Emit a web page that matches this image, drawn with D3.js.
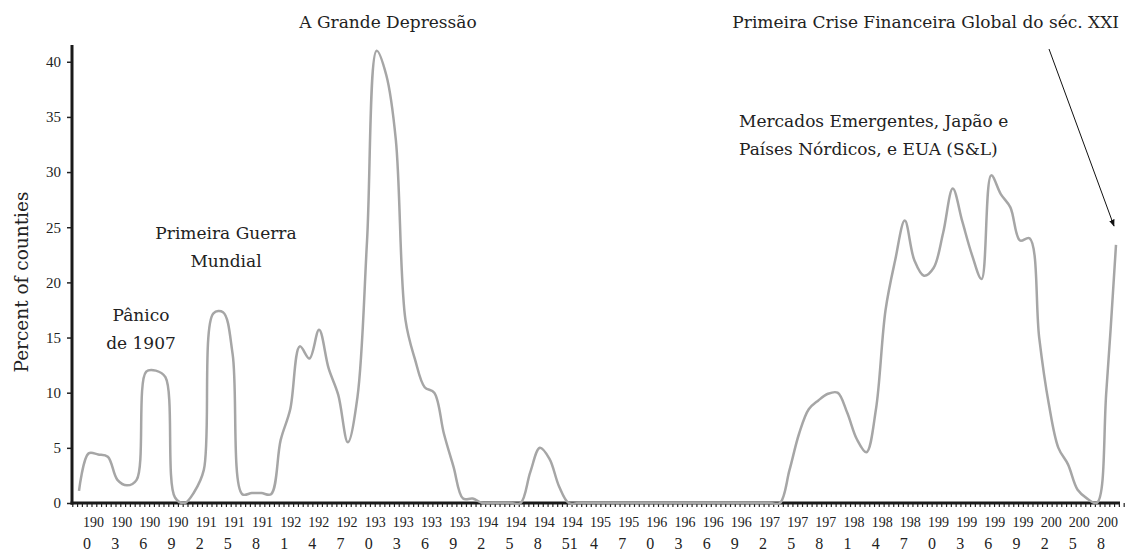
<!DOCTYPE html>
<html>
<head>
<meta charset="utf-8">
<script src="https://cdn.jsdelivr.net/npm/d3@7"></script>
<style>
  body { margin: 0; background: #fff; }
  svg text { font-family: "DejaVu Serif", "Liberation Serif", serif; fill: #222; }
</style>
</head>
<body>
<svg id="chart"></svg>
<script>
let width = 1129;
let height = 554;

// share of countries in banking crisis, one value per year 1900..2008
let years = d3.range(1900, 2009);
let crisisPct = [
  1.1, 4.5, 4.4, 4.2, 2.1, 1.6, 2.1, 11.9, 12.0, 11.4,   // 1900-1909
  0.5, 0.0, 1.0, 3.0, 17.2, 17.3, 13.5, 0.8, 0.9, 0.9,   // 1910-1919
  0.8, 5.7, 8.5, 14.2, 13.1, 15.7, 12.2, 9.8, 5.5, 9.6,  // 1920-1929
  23.8, 41.0, 38.8, 32.9, 16.6, 13.0, 10.5, 10.0, 6.3, 3.3, // 1930-1939
  0.4, 0.4, 0, 0, 0, 0, 0, 2.8, 5.0, 4.0,                // 1940-1949
  1.5, 0, 0, 0, 0, 0, 0, 0, 0, 0,                        // 1950-1959
  0, 0, 0, 0, 0, 0, 0, 0, 0, 0,                          // 1960-1969
  0, 0, 0, 0, 3.0, 6.3, 8.5, 9.3, 9.9, 10.0,             // 1970-1979
  8.2, 5.8, 4.6, 8.5, 17.5, 22.0, 25.6, 22.0, 20.6, 21.3, // 1980-1989
  24.5, 28.5, 25.5, 22.5, 20.3, 29.7, 28.0, 26.8, 23.8, 24.0, // 1990-1999
  15.0, 9.0, 5.0, 3.5, 1.2, 0.4, 0, 10.2, 23.4           // 2000-2008
];

// axis labels, every third year (the 1951 label reads "19451" in the source)
let xTickLabels = ["1900","1903","1906","1909","1912","1915","1918","1921","1924","1927",
  "1930","1933","1936","1939","1942","1945","1948","19451","1954","1957",
  "1960","1963","1966","1969","1972","1975","1978","1981","1984","1987",
  "1990","1993","1996","1999","2002","2005","2008"];
let yTicks = [0, 5, 10, 15, 20, 25, 30, 35, 40];

let svg = d3.select("#chart")
  .attr("width", width)
  .attr("height", height);

let xScale = d3.scaleLinear().domain([1900, 2008]).range([79, 1116]);
let xLabel = d3.scaleLinear().domain([0, xTickLabels.length - 1]).range([83, 1097]);
let yScale = d3.scaleLinear().domain([0, 41.52]).range([503, 45]);

// minor ticks on the x axis
let xAxis = d3.axisBottom(xScale)
  .tickValues(d3.range(1899.3, 2008.9, 0.5))
  .tickSize(4)
  .tickFormat("");
svg.append("g")
  .attr("transform", "translate(0," + 503 + ")")
  .call(xAxis)
  .call(g => g.select(".domain").remove())
  .call(g => g.selectAll("line").attr("stroke", "#222").attr("stroke-width", 1.2));

let yAxis = d3.axisLeft(yScale)
  .tickValues(yTicks)
  .tickSize(5)
  .tickPadding(6);
svg.append("g")
  .attr("transform", "translate(72,0)")
  .call(yAxis)
  .call(g => g.select(".domain").remove())
  .call(g => g.selectAll("line").attr("stroke", "#222").attr("stroke-width", 1.5))
  .call(g => g.selectAll("text")
    .style("font-size", "15px")
    .style("font-family", "'Liberation Serif', serif")
    .attr("fill", "#222"));

// axis lines
svg.append("line")
  .attr("x1", 72).attr("x2", 72)
  .attr("y1", yScale.range()[1]).attr("y2", 504.5)
  .attr("stroke", "#1a1a1a").attr("stroke-width", 3);
svg.append("line")
  .attr("x1", 70.5).attr("x2", 1120)
  .attr("y1", 503).attr("y2", 503)
  .attr("stroke", "#1a1a1a").attr("stroke-width", 3);

// x labels, wrapped after the third character
let lab = svg.append("g").selectAll("text")
  .data(xTickLabels)
  .enter()
  .append("text")
  .attr("x", (d, i) => xLabel(i))
  .attr("y", 527)
  .style("font-family", "'Liberation Serif', serif")
  .style("font-size", "14px");
lab.append("tspan")
  .attr("x", (d, i) => xLabel(i))
  .text(d => d.slice(0, 3));
lab.append("tspan")
  .attr("x", (d, i) => xLabel(i))
  .attr("dy", 22)
  .style("font-size", "16px")
  .text(d => d.slice(3));

// y axis title
svg.append("text")
  .attr("transform", "translate(28,282) rotate(-90)")
  .attr("text-anchor", "middle")
  .style("font-size", "18.5px")
  .text("Percent of counties");

// the series
let line = d3.line()
  .x((d, i) => xScale(years[i]))
  .y(d => yScale(d))
  .curve(d3.curveCatmullRom.alpha(0.5));

svg.append("path")
  .datum(crisisPct)
  .attr("d", line)
  .attr("fill", "none")
  .attr("stroke", "#a6a6a6")
  .attr("stroke-width", 2.5);

// annotations
let notes = [
  { lines: ["A Grande Depressão"], x: 388, y: 28, anchor: "middle" },
  { lines: ["Primeira Crise Financeira Global do séc. XXI"], x: 1119, y: 28, anchor: "end" },
  { lines: ["Mercados Emergentes, Japão e", "Países Nórdicos, e EUA (S&L)"], x: 739, y: 127, anchor: "start" },
  { lines: ["Primeira Guerra", "Mundial"], x: 226, y: 239, anchor: "middle" },
  { lines: ["Pânico", "de 1907"], x: 141, y: 321, anchor: "middle" }
];
notes.forEach(n => {
  let t = svg.append("text")
    .attr("text-anchor", n.anchor)
    .style("font-size", "17px");
  n.lines.forEach((s, i) => {
    t.append("tspan")
      .attr("x", n.x)
      .attr("y", n.y + i * 27.5)
      .text(s);
  });
});

// arrow to the 2008 point
svg.append("defs").append("marker")
  .attr("id", "arrow")
  .attr("viewBox", "0 0 10 10")
  .attr("refX", 9).attr("refY", 5)
  .attr("markerWidth", 7).attr("markerHeight", 7)
  .attr("orient", "auto")
  .append("path")
  .attr("d", "M0,1 L10,5 L0,9 Z")
  .attr("fill", "#111");

svg.append("line")
  .attr("x1", 1049).attr("y1", 49)
  .attr("x2", xScale(2008) - 2).attr("y2", 226)
  .attr("stroke", "#111")
  .attr("stroke-width", 1)
  .attr("marker-end", "url(#arrow)");
</script>
</body>
</html>
